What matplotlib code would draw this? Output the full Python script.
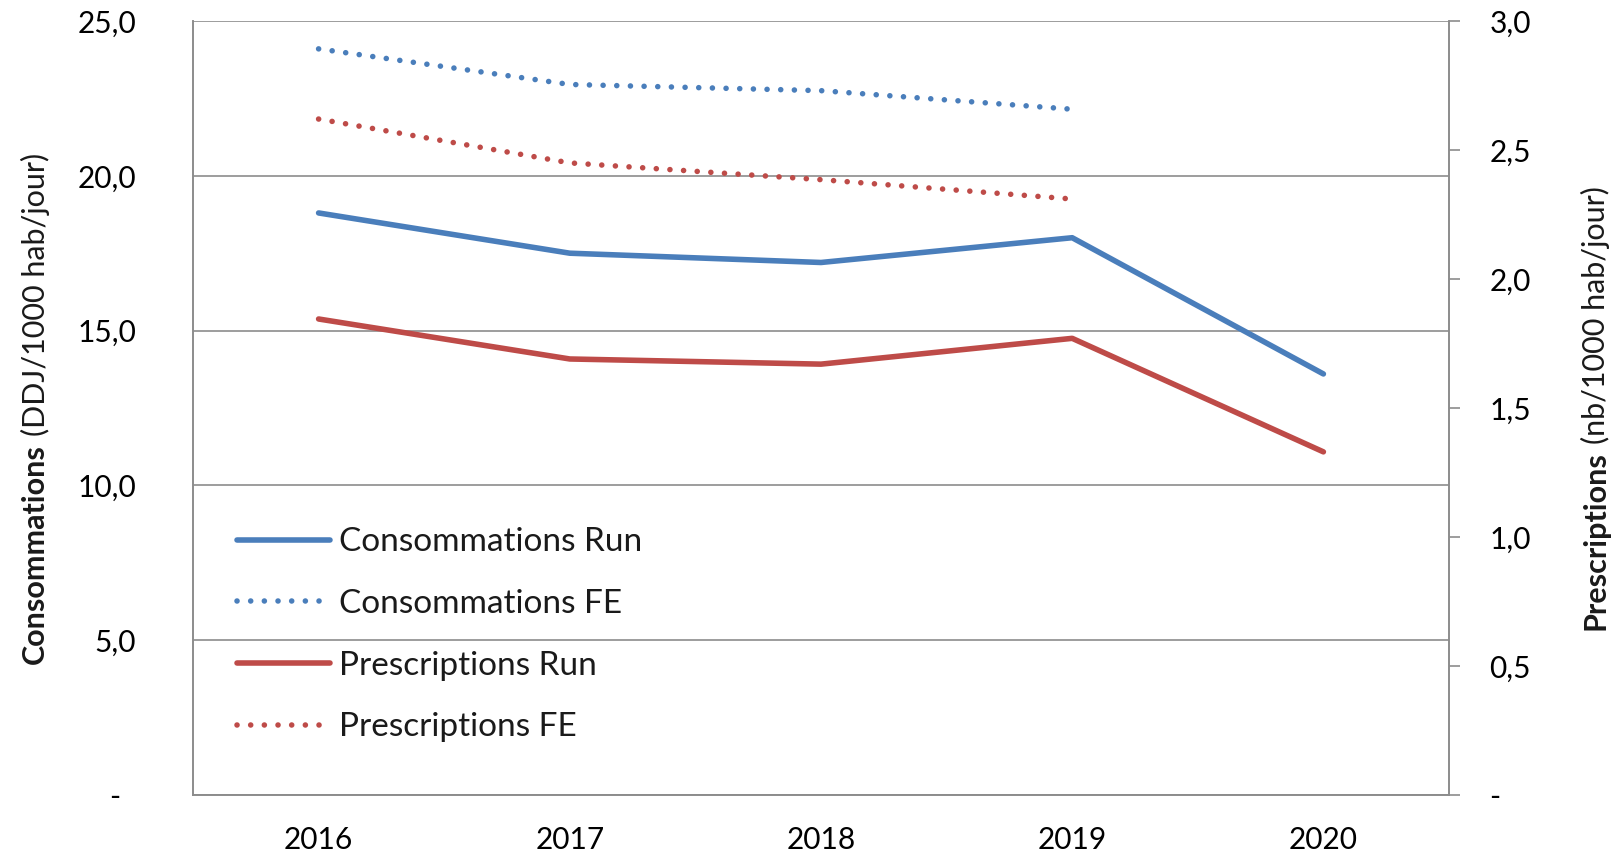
import matplotlib
matplotlib.use("Agg")
import matplotlib.pyplot as plt
from matplotlib.ticker import FuncFormatter

# donnees
annees = ["2016", "2017", "2018", "2019", "2020"]
conso_run = [18.8, 17.5, 17.2, 18.0, 13.6]
conso_fe = [24.1, 22.95, 22.75, 22.15]
presc_run = [1.845, 1.69, 1.67, 1.77, 1.33]
presc_fe = [2.62, 2.45, 2.385, 2.31]

bleu = "#4A7EBB"
rouge = "#BE4B48"
gris = "#8C8C8C"

plt.rcParams['font.family'] = ['Lato', 'DejaVu Sans']
plt.rcParams['text.color'] = '#1a1a1a'

W, H = 1617, 856
fig = plt.figure(figsize=(W / 100, H / 100), dpi=100)
ax = fig.add_axes([193 / W, 1 - 795 / H, (1449 - 193) / W, (795 - 21) / H])
ax2 = ax.twinx()

x = list(range(len(annees)))
x_fe = x[:len(conso_fe)]
lw = 4.0
pointille = (0, (0.01, 2.45))

l1, = ax.plot(x, conso_run, color=bleu, lw=lw, solid_capstyle='round', label="Consommations Run")
l2, = ax.plot(x_fe, conso_fe, color=bleu, lw=lw, ls=pointille, dash_capstyle='round', label="Consommations FE")
l3, = ax2.plot(x, presc_run, color=rouge, lw=lw, solid_capstyle='round', label="Prescriptions Run")
l4, = ax2.plot(x_fe, presc_fe, color=rouge, lw=lw, ls=pointille, dash_capstyle='round', label="Prescriptions FE")

ax.set_xlim(-0.5, len(annees) - 0.5)
ax.set_ylim(0, 25)
ax2.set_ylim(0, 3)
ax.set_yticks([0, 5, 10, 15, 20, 25])
ax2.set_yticks([0, 0.5, 1, 1.5, 2, 2.5, 3])

def fmt(v, pos):
    if abs(v) < 1e-9:
        return "-  "
    return ("%.1f" % v).replace(".", ",")

ax.yaxis.set_major_formatter(FuncFormatter(fmt))
ax2.yaxis.set_major_formatter(FuncFormatter(lambda v, p: "-" if abs(v) < 1e-9 else ("%.1f" % v).replace(".", ",")))

ts = 21.5
ax.set_xticks(x)
ax.set_xticklabels(annees)
ax.tick_params(axis='x', length=0, pad=22, labelsize=ts)
ax.tick_params(axis='y', length=0, pad=41, labelsize=ts)
ax2.tick_params(axis='y', length=8, width=1.2, color=gris, pad=21, labelsize=ts)

ax.yaxis.grid(True, color=gris, lw=1.2)
ax.set_axisbelow(True)
for a in (ax, ax2):
    a.spines['top'].set_visible(False)
    for s in ('left', 'right', 'bottom'):
        a.spines[s].set_color(gris)
        a.spines[s].set_linewidth(1.2)

leg = ax2.legend(handles=[l1, l2, l3, l4], loc='center left', bbox_to_anchor=(0.035, 0.207),
                 frameon=False, fontsize=24, handlelength=2.8, handletextpad=0.25,
                 labelspacing=0.95, borderpad=0, borderaxespad=0)

# titres des axes : premier mot en gras
fig.canvas.draw()
r = fig.canvas.get_renderer()

def titre(xc, gras, reste):
    t1 = fig.text(xc / W, 0, gras, rotation=90, weight='bold', fontsize=22, ha='center', va='bottom')
    t2 = fig.text(xc / W, 0, reste, rotation=90, fontsize=22, ha='center', va='bottom')
    h1 = t1.get_window_extent(r).height
    h2 = t2.get_window_extent(r).height
    gap = 8
    y0 = (H - 408) - (h1 + gap + h2) / 2
    t1.set_y(y0 / H)
    t2.set_y((y0 + h1 + gap) / H)

titre(35, "Consommations", "(DDJ/1000 hab/jour)")
titre(1595, "Prescriptions", "(nb/1000 hab/jour)")

fig.savefig("out.png", dpi=100)
